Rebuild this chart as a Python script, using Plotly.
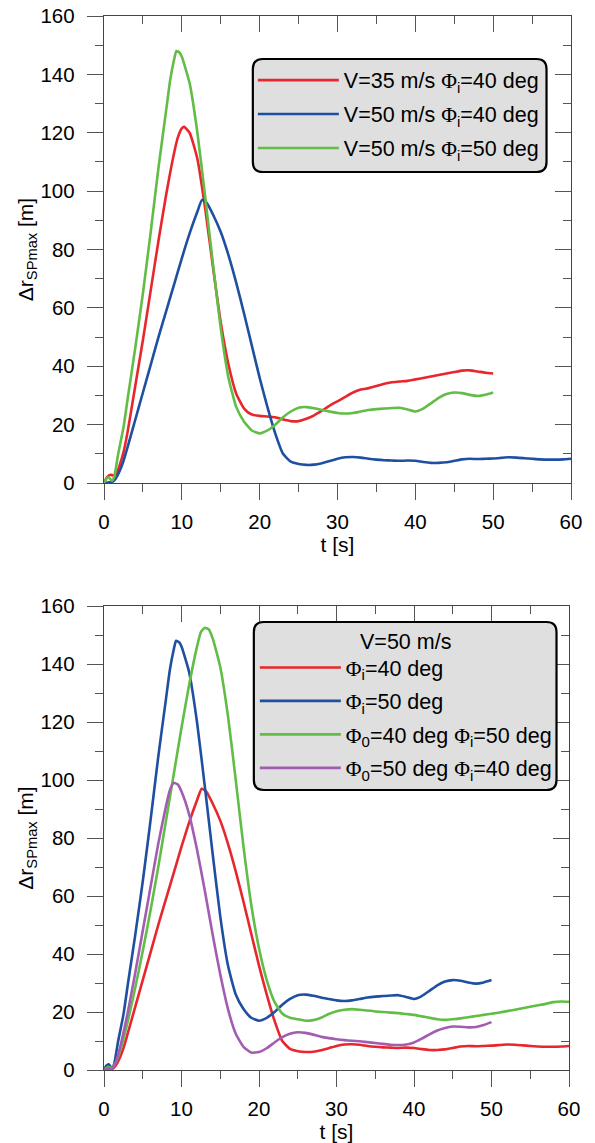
import plotly.graph_objects as go

# ---------------- data ----------------
# V=35 m/s, Phi_i=40 deg
t_v35_i40 = [0, 0.4, 0.8, 1.2, 1.6, 2, 2.5, 3, 4, 5, 6, 7, 8, 9, 9.5, 10, 10.3, 11, 12, 13, 14, 15, 16, 17, 18,
             18.5, 19, 20, 21, 22, 23, 24, 25, 26, 27, 28, 29, 30, 31, 32, 33, 34, 35, 36, 37, 38, 39, 40, 41, 42,
             43, 44, 45, 46, 47, 48, 49, 50]
r_v35_i40 = [0, 2, 2.8, 2.6, 3.2, 6, 10.5, 17, 33, 49, 66, 83, 99, 113, 118.5, 121.5, 122, 120, 111, 94, 74, 55,
             40.5, 30.5, 25.5, 24.2, 23.5, 23, 22.8, 22.5, 21.8, 21.2, 21.2, 22, 23.2, 24.8, 26.5, 28, 29.5, 31, 32,
             32.5, 33.2, 34, 34.5, 34.8, 35, 35.5, 36, 36.5, 37, 37.5, 38, 38.5, 38.6, 38.2, 37.8, 37.5]

# V=50 m/s, Phi_i=40 deg  (same case as "Phi_i=40 deg" in lower panel)
t_v50_i40 = [0, 0.5, 1, 1.5, 2, 2.5, 3, 4, 5, 6, 7, 8, 9, 10, 11, 12, 12.6, 13.2, 14, 15, 16, 17, 18, 19, 20,
             21, 22, 23, 24, 25, 26, 27, 28, 29, 30, 31, 32, 33, 34, 35, 36, 37, 38, 39, 40, 41, 42, 43, 44, 45,
             46, 47, 48, 49, 50, 51, 52, 53, 54, 55, 56, 57, 58, 59, 60]
r_v50_i40 = [0, 0.2, 0.3, 1.5, 4, 7.5, 12, 21.5, 31, 40.5, 50, 59, 68, 77, 85.5, 93, 97, 96, 92, 86, 78, 68.5, 58,
             47, 36, 26, 17, 10, 7.3, 6.5, 6.2, 6.3, 6.8, 7.5, 8.3, 8.8, 8.9, 8.7, 8.3, 8, 7.8, 7.7, 7.6, 7.7,
             7.6, 7.2, 6.9, 6.9, 7.1, 7.6, 8.1, 8.3, 8.2, 8.3, 8.4, 8.6, 8.8, 8.7, 8.5, 8.3, 8.1, 8, 8, 8.1, 8.3]

# V=50 m/s, Phi_i=50 deg  (same case as "Phi_i=50 deg" in lower panel)
t_v50_i50 = [0, 0.3, 0.6, 1, 1.3, 1.8, 2.5, 3.1, 4, 5, 6, 7, 8, 8.5, 9, 9.3, 9.7, 10, 11, 12, 13, 14, 15, 16, 17,
             18, 19, 20, 21, 22, 23, 24, 25, 26, 27, 28, 29, 30, 31, 32, 33, 34, 35, 36, 37, 38, 39, 40, 41, 42,
             43, 44, 45, 46, 47, 48, 49, 50]
r_v50_i50 = [0, 1.5, 2, 0.8, 2, 9.6, 19, 30, 46, 65, 86, 108, 128, 138, 145, 148, 147.5, 146, 137, 120, 98, 75,
             53, 36, 26, 21, 18, 17, 18, 20, 22.5, 24.5, 25.8, 26, 25.6, 25, 24.5, 24, 23.8, 24, 24.5, 25, 25.3,
             25.5, 25.7, 25.8, 25.2, 24.5, 25.5, 27.3, 29.2, 30.5, 31, 30.8, 30.2, 29.8, 30.2, 31]

# V=50 m/s, Phi_0=40 deg, Phi_i=50 deg
t_o40_i50 = [0, 0.5, 1, 1.5, 2, 3, 4, 5, 6, 7, 8, 9, 10, 11, 12, 12.5, 13, 13.5, 14, 15, 16, 17, 18, 19, 20, 21,
             22, 23, 24, 25, 26, 27, 28, 29, 30, 31, 32, 33, 34, 35, 36, 37, 38, 39, 40, 41, 42, 43, 44, 45, 46,
             47, 48, 49, 50, 51, 52, 53, 54, 55, 56, 57, 58, 59, 60]
r_o40_i50 = [0, 1, 0.8, 2.5, 6, 16, 28, 41, 55, 70, 86, 102, 118, 133, 146, 151, 152.5, 152, 149, 139, 122, 100,
             77, 57, 42, 31, 23.5, 19.5, 18, 17.5, 17, 17.2, 18, 19.3, 20.3, 20.8, 21, 20.8, 20.5, 20.2, 20, 19.8,
             19.6, 19.3, 19, 18.5, 18, 17.5, 17.3, 17.5, 17.8, 18.2, 18.6, 19, 19.4, 19.8, 20.3, 20.8, 21.3, 21.8,
             22.3, 22.8, 23.4, 23.6, 23.5]

# V=50 m/s, Phi_0=50 deg, Phi_i=40 deg
t_o50_i40 = [0, 0.5, 1, 1.5, 2, 3, 4, 5, 6, 7, 8, 8.5, 9, 9.5, 10, 11, 12, 13, 14, 15, 16, 17, 18, 19, 20, 21, 22,
             23, 24, 25, 26, 27, 28, 29, 30, 31, 32, 33, 34, 35, 36, 37, 38, 39, 40, 41, 42, 43, 44, 45, 46, 47,
             48, 49, 50]
r_o50_i40 = [0, 0.5, 0.5, 2.5, 7, 19, 33, 48, 63, 78, 91, 96.5, 99, 98.5, 96, 88, 76, 62, 47, 33, 21, 12.5, 8, 6,
             6.2, 7.5, 9.5, 11.3, 12.5, 13, 12.8, 12.2, 11.5, 11, 10.6, 10.3, 10.1, 9.9, 9.6, 9.3, 9, 8.7, 8.6,
             8.8, 9.5, 10.8, 12.3, 13.6, 14.5, 15, 14.9, 14.7, 14.8, 15.5, 16.5]

x_ticks = [0, 10, 20, 30, 40, 50, 60]
y_ticks = [0, 20, 40, 60, 80, 100, 120, 140, 160]

PHI = '<span style="font-family:Liberation Serif">Φ</span>'
names_top = [f"V=35 m/s {PHI}<sub>i</sub>=40 deg",
             f"V=50 m/s {PHI}<sub>i</sub>=40 deg",
             f"V=50 m/s {PHI}<sub>i</sub>=50 deg"]
names_bot = [f"{PHI}<sub>i</sub>=40 deg",
             f"{PHI}<sub>i</sub>=50 deg",
             f"{PHI}<sub>0</sub>=40 deg {PHI}<sub>i</sub>=50 deg",
             f"{PHI}<sub>0</sub>=50 deg {PHI}<sub>i</sub>=40 deg"]
legend2_title = "V=50 m/s"

RED, BLUE, GREEN, PURPLE = "#e8262d", "#1f4fa0", "#62bd46", "#a35db0"
FONT = "Liberation Sans, Arial, sans-serif"
LW = 2.6
SMOOTH = 0.5

fig = go.Figure()

top_series = [(t_v35_i40, r_v35_i40, RED), (t_v50_i40, r_v50_i40, BLUE), (t_v50_i50, r_v50_i50, GREEN)]
for i, (t, r, c) in enumerate(top_series):
    fig.add_trace(go.Scatter(x=t, y=r, mode="lines", name=names_top[i],
                             line=dict(color=c, width=LW, shape="spline", smoothing=SMOOTH),
                             xaxis="x", yaxis="y", legend="legend", legendgroup=f"a{i}"))

bot_series = [(t_v50_i40, r_v50_i40, RED), (t_v50_i50, r_v50_i50, BLUE), (t_o40_i50, r_o40_i50, GREEN),
              (t_o50_i40, r_o50_i40, PURPLE)]
for i, (t, r, c) in enumerate(bot_series):
    fig.add_trace(go.Scatter(x=t, y=r, mode="lines", name=names_bot[i],
                             line=dict(color=c, width=LW, shape="spline", smoothing=SMOOTH),
                             xaxis="x2", yaxis="y2", legend="legend2", legendgroup=f"b{i}"))

# dummy traces to realise the mirrored (inside-tick) axes
fig.add_trace(go.Scatter(x=[None], y=[None], xaxis="x3", yaxis="y3", showlegend=False, hoverinfo="skip"))
fig.add_trace(go.Scatter(x=[None], y=[None], xaxis="x4", yaxis="y4", showlegend=False, hoverinfo="skip"))

AX = "#444444"
TK = "#555555"
tickfont = dict(family=FONT, size=20.5, color="black")
titlefont = dict(family=FONT, size=21, color="black")

def xmain(domain, anchor):
    return dict(domain=domain, anchor=anchor, range=[0, 60], tickvals=x_ticks, ticks="outside", ticklen=16,
                tickwidth=1.3, tickcolor=TK, showline=True, linecolor=AX, linewidth=1.4, showgrid=False,
                zeroline=False, tickfont=tickfont, ticklabelstandoff=4, automargin=False,
                ticklabeloverflow="allow",
                minor=dict(dtick=5, ticks="outside", ticklen=8, tickwidth=1.3, tickcolor=TK, showgrid=False),
                title=dict(text="t [s]", font=titlefont, standoff=5))

def ymain(domain, anchor):
    return dict(domain=domain, anchor=anchor, range=[0, 160], tickvals=y_ticks, ticks="outside", ticklen=16,
                tickwidth=1.3, tickcolor=TK, showline=True, linecolor=AX, linewidth=1.4, showgrid=False,
                zeroline=False, tickfont=tickfont, ticklabelstandoff=8, automargin=False,
                ticklabeloverflow="allow",
                minor=dict(dtick=10, ticks="outside", ticklen=8, tickwidth=1.3, tickcolor=TK, showgrid=False),
                title=dict(text="Δr<sub>SPmax</sub> [m]", font=titlefont, standoff=0))

def xmirror(over, anchor):
    return dict(overlaying=over, anchor=anchor, side="top", range=[0, 60], tickvals=x_ticks, ticks="inside",
                ticklen=16, tickwidth=1.3, tickcolor=TK, showline=True, linecolor=AX, linewidth=1.4,
                showgrid=False, zeroline=False, showticklabels=False, automargin=False,
                minor=dict(dtick=5, ticks="inside", ticklen=8, tickwidth=1.3, tickcolor=TK, showgrid=False))

def ymirror(over, anchor):
    return dict(overlaying=over, anchor=anchor, side="right", range=[0, 160], tickvals=y_ticks, ticks="inside",
                ticklen=16, tickwidth=1.3, tickcolor=TK, showline=True, linecolor=AX, linewidth=1.4,
                showgrid=False, zeroline=False, showticklabels=False, automargin=False,
                minor=dict(dtick=10, ticks="inside", ticklen=8, tickwidth=1.3, tickcolor=TK, showgrid=False))

W, H = 595, 1143

# page body margin (8 px) shifts the figure; convert target picture pixels to layout pixels
def dx(xr):
    return xr - 8

def dy(yr):
    return yr - 8

ML = dx(104)
MR = W - dx(571.5)
MT = dy(16)
MB = H - dy(1070)
PW, PH = W - ML - MR, H - MT - MB

def px(xref):
    return (dx(xref) - ML) / PW

def py(yref):
    return (H - MB - dy(yref)) / PH

top_dom = [py(483), 1]
bot_dom = [0, py(606)]
bot_xdom = [0, px(569.5)]

def rounded_box(x0r, x1r, ytopr, ybotr, r=10):
    x0, x1 = px(x0r), px(x1r)
    y1, y0 = py(ytopr), py(ybotr)
    rx, ry = r / PW, r / PH
    return (f"M {x0+rx},{y1} L {x1-rx},{y1} Q {x1},{y1} {x1},{y1-ry} L {x1},{y0+ry} Q {x1},{y0} {x1-rx},{y0} "
            f"L {x0+rx},{y0} Q {x0},{y0} {x0},{y0+ry} L {x0},{y1-ry} Q {x0},{y1} {x0+rx},{y1} Z")

shapes = [
    dict(type="path", xref="paper", yref="paper", path=rounded_box(253, 547, 59, 172), fillcolor="#dfdfdf",
         line=dict(color="black", width=2.2), layer="above"),
    dict(type="path", xref="paper", yref="paper", path=rounded_box(254, 557, 622, 790), fillcolor="#dfdfdf",
         line=dict(color="black", width=2.2), layer="above"),
]

legfont = dict(family=FONT, size=21.5, color="black")
annotations = [
    dict(text=legend2_title, xref="paper", yref="paper", x=px(405.5), y=py(642), xanchor="center",
         yanchor="middle", showarrow=False, font=legfont),
]

fig.update_layout(
    template="none",
    width=W, height=H, margin=dict(l=ML, r=MR, t=MT, b=MB, pad=0, autoexpand=False),
    paper_bgcolor="white", plot_bgcolor="white", font=dict(family=FONT, color="black"),
    xaxis=xmain([0, 1], "y"), yaxis=ymain(top_dom, "x"),
    xaxis2=xmain(bot_xdom, "y2"), yaxis2=ymain(bot_dom, "x2"),
    xaxis3=dict(xmirror("x", "y3"), domain=[0, 1]), yaxis3=dict(ymirror("y", "x3"), domain=top_dom),
    xaxis4=dict(xmirror("x2", "y4"), domain=bot_xdom), yaxis4=dict(ymirror("y2", "x4"), domain=bot_dom),
    shapes=shapes,
    annotations=annotations,
    legend=dict(x=px(253), y=py(59.6), xanchor="left", yanchor="top", bgcolor="rgba(0,0,0,0)", borderwidth=0,
                font=legfont, itemwidth=81, tracegroupgap=3),
    legend2=dict(x=px(255), y=py(647), xanchor="left", yanchor="top", bgcolor="rgba(0,0,0,0)", borderwidth=0,
                 font=legfont, itemwidth=81, tracegroupgap=2.5),
    showlegend=True,
)

fig.write_html("out.html")
